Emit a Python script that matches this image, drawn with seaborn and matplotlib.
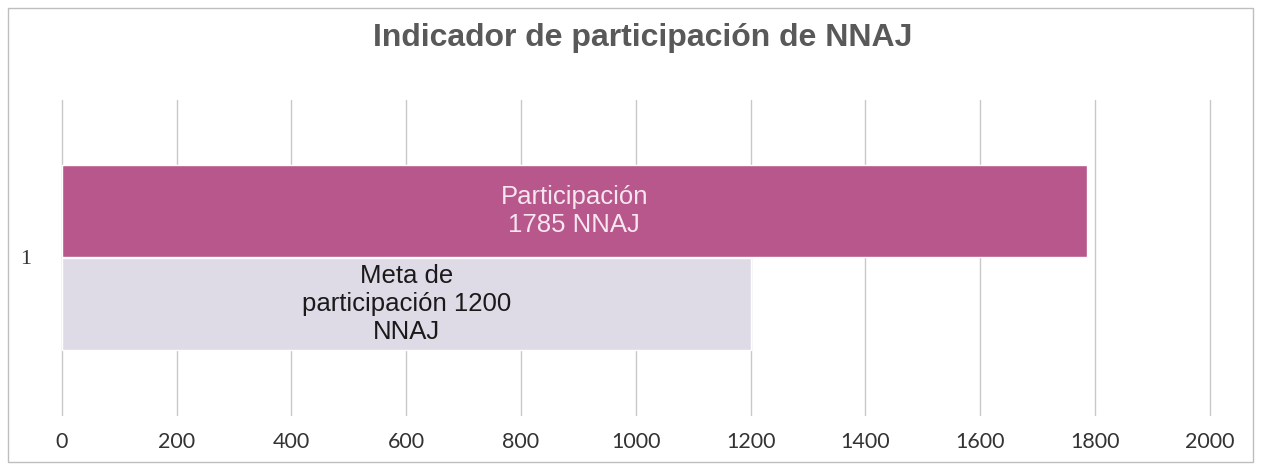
import matplotlib
matplotlib.use("Agg")
import matplotlib.pyplot as plt
from matplotlib.patches import Rectangle
import seaborn as sns
import pandas as pd

# Chart data
categories = ["1", "1"]
series = ["Participación", "Meta de participación"]
values = [1785, 1200]
bar_labels = ["Participación\n1785 NNAJ", "Meta de\nparticipación 1200\nNNAJ"]
x_ticks = [0, 200, 400, 600, 800, 1000, 1200, 1400, 1600, 1800, 2000]
title = "Indicador de participación de NNAJ"

df = pd.DataFrame({"categoria": categories, "serie": series, "valor": values})

sns.set_theme(style="white")
plt.rcParams["font.family"] = ["Liberation Sans", "DejaVu Sans"]

fig = plt.figure(figsize=(12.61, 4.69), dpi=100)
ax = fig.add_axes([0.049, 0.115, 0.9105, 0.672])

palette = {"Participación": "#B8578C", "Meta de participación": "#DEDBE7"}
sns.barplot(data=df, x="valor", y="categoria", hue="serie", orient="h",
            palette=palette, width=0.59, gap=0.02, saturation=1,
            legend=False, ax=ax)

ax.set_xlim(0, 2000)
ax.set_xticks(x_ticks)
ax.set_xticklabels([str(t) for t in x_ticks], family=["Lato", "DejaVu Sans"],
                   fontsize=15.5, color="#333333")
for lbl in ax.get_yticklabels():
    lbl.set_family(["Liberation Serif", "DejaVu Serif"])
    lbl.set_fontsize(16)
    lbl.set_color("#333333")
ax.tick_params(axis="x", length=0, pad=12)
ax.tick_params(axis="y", length=0, pad=22)
ax.set_xlabel("")
ax.set_ylabel("")
ax.xaxis.grid(True, color="#C8C8C8", linewidth=1.0)
for gl in ax.get_xgridlines():
    gl.set_clip_on(False)
ax.set_axisbelow(True)
for s in ax.spines.values():
    s.set_visible(False)

# Centered value labels inside each bar
text_colors = ["#F6E6EF", "#1A1A1A"]
for cont, lab, col in zip(ax.containers, bar_labels, text_colors):
    ax.bar_label(cont, labels=[lab], label_type="center", color=col,
                 fontsize=18.5, linespacing=1.22)

fig.text(0.51, 0.918, title, ha="center", va="center", fontsize=23,
         fontweight="bold", color="#595959",
         family=["Liberation Sans", "DejaVu Sans"])

# Thin chart-area frame
fig.patches.append(Rectangle((0.006, 0.015), 0.988, 0.968, transform=fig.transFigure,
                             fill=False, edgecolor="#BEBEBE", linewidth=1.0))

fig.savefig("out.png", dpi=100, facecolor="white")
